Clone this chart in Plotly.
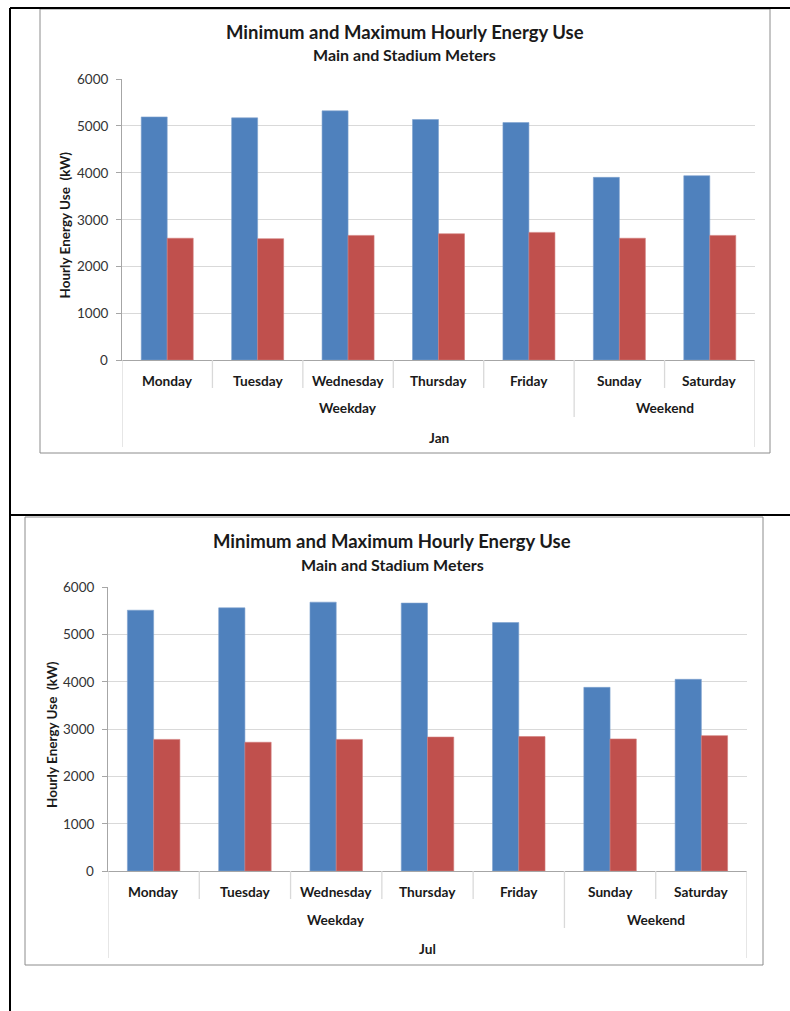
import plotly.graph_objects as go

# ---- data ----
days = ["Monday", "Tuesday", "Wednesday", "Thursday", "Friday", "Sunday", "Saturday"]
day_group = ["Weekday", "Weekday", "Weekday", "Weekday", "Weekday", "Weekend", "Weekend"]
months = ["Jan", "Jul"]
jan_max = [5190, 5170, 5320, 5135, 5070, 3900, 3935]
jan_min = [2600, 2590, 2660, 2695, 2725, 2600, 2660]
jul_max = [5510, 5560, 5680, 5660, 5250, 3880, 4050]
jul_min = [2780, 2720, 2780, 2830, 2840, 2790, 2860]
title_main = "Minimum and Maximum Hourly Energy Use"
title_sub = "Main and Stadium Meters"
y_title = "Hourly Energy Use&nbsp;&nbsp;(kW)"
y_ticks = [0, 1000, 2000, 3000, 4000, 5000, 6000]

W, H = 790, 1011
FONT = "Lato"
BLUE = "#4F81BD"
RED = "#C0504D"
GRID = "#D9D9D9"
AXC = "#A6A6A6"
TXT = "#1a1a1a"


def px(x):
    return x / W


def py(y):
    return 1 - y / H


fig = go.Figure()

charts = [
    dict(ax="", vmax=jan_max, vmin=jan_min, month=months[0],
         L=122, R=755, T=79, B=360, frame=(40, 9, 770, 453),
         tcx=405, t1=32, t2=55, ytx=64),
    dict(ax="2", vmax=jul_max, vmin=jul_min, month=months[1],
         L=108, R=747, T=587, B=871, frame=(25, 517, 763, 965),
         tcx=392, t1=541, t2=564, ytx=52),
]

shapes = []
annotations = []


def ann(**kw):
    base = dict(showarrow=False, xanchor="center", yanchor="middle")
    base.update(kw)
    annotations.append(base)


for c in charts:
    xa = "x" + c["ax"]
    ya = "y" + c["ax"]
    fig.add_trace(go.Bar(x=days, y=c["vmax"], xaxis=xa, yaxis=ya,
                         marker=dict(color=BLUE, line=dict(color="#7EA1CF", width=0.6)),
                         offsetgroup="max", showlegend=False, name="Max"))
    fig.add_trace(go.Bar(x=days, y=c["vmin"], xaxis=xa, yaxis=ya,
                         marker=dict(color=RED, line=dict(color="#D27C7A", width=0.6)),
                         offsetgroup="min", showlegend=False, name="Min"))

    L, R, T, B = c["L"], c["R"], c["T"], c["B"]
    xkey = "xaxis" + c["ax"]
    ykey = "yaxis" + c["ax"]
    fig.update_layout(**{
        xkey: dict(domain=[px(L), px(R)], anchor=ya, type="category",
                   categoryorder="array", categoryarray=days,
                   range=[-0.5, len(days) - 0.5], showticklabels=False,
                   showline=True, linecolor=AXC, linewidth=1, ticks="",
                   showgrid=False, zeroline=False, fixedrange=True),
        ykey: dict(domain=[py(B), py(T)], anchor=xa, range=[0, 6000],
                   tickvals=y_ticks, showgrid=True, gridcolor=GRID, gridwidth=1,
                   showline=True, linecolor=AXC, linewidth=1,
                   ticks="outside", ticklen=5, tickcolor=AXC,
                   showticklabels=False,
                   zeroline=False, fixedrange=True),
    })

    # y tick labels, right-aligned, positioned on the y scale
    for v in y_ticks:
        annotations.append(dict(x=px(L - 12), y=v, xref="paper", yref=ya,
                                text=str(v), showarrow=False,
                                xanchor="right", yanchor="middle",
                                font=dict(family=FONT, size=13.5, color="#333333")))

    fl, ft, fr, fb = c["frame"]
    shapes.append(dict(type="rect", xref="paper", yref="paper",
                       x0=px(fl), x1=px(fr), y0=py(fb), y1=py(ft),
                       line=dict(color="#8C8C8C", width=1), layer="below"))

    lvl1 = B + 28
    lvl2 = B + 57
    lvl3 = B + 87
    for i in range(1, len(days)):
        bottom = lvl2 if day_group[i] != day_group[i - 1] else lvl1
        shapes.append(dict(type="line", xref=xa, yref="paper",
                           x0=i - 0.5, x1=i - 0.5, y0=py(B), y1=py(bottom),
                           line=dict(color=GRID, width=1.3)))
    for xe in (-0.5, len(days) - 0.5):
        shapes.append(dict(type="line", xref=xa, yref="paper",
                           x0=xe, x1=xe, y0=py(B), y1=py(lvl3),
                           line=dict(color=GRID, width=1.3)))

    for i, d in enumerate(days):
        ann(x=i, y=py(B + 20), xref=xa, yref="paper", text="<b>%s</b>" % d,
            font=dict(family=FONT, size=13.7, color=TXT))
    groups = []
    for g in day_group:
        if g not in groups:
            groups.append(g)
    for g in groups:
        idx = [i for i, v in enumerate(day_group) if v == g]
        ann(x=(idx[0] + idx[-1]) / 2, y=py(B + 48), xref=xa, yref="paper",
            text="<b>%s</b>" % g, font=dict(family=FONT, size=13.7, color=TXT))
    ann(x=(len(days) - 1) / 2, y=py(B + 77), xref=xa, yref="paper",
        text="<b>%s</b>" % c["month"], font=dict(family=FONT, size=13.7, color=TXT))

    ann(x=px(c["tcx"]), y=py(c["t1"]), xref="paper", yref="paper",
        text="<b>%s</b>" % title_main, font=dict(family=FONT, size=18.5, color=TXT))
    ann(x=px(c["tcx"]), y=py(c["t2"]), xref="paper", yref="paper",
        text="<b>%s</b>" % title_sub, font=dict(family=FONT, size=16, color=TXT))
    ann(x=px(c["ytx"]), y=py((T + B) / 2 + 6), xref="paper", yref="paper",
        text="<b>%s</b>" % y_title, textangle=-90,
        font=dict(family=FONT, size=13.5, color=TXT))

black = dict(color="black", width=2)
shapes.append(dict(type="line", xref="paper", yref="paper",
                   x0=px(10), x1=px(10), y0=py(8), y1=0, line=black))
shapes.append(dict(type="line", xref="paper", yref="paper",
                   x0=px(10), x1=1, y0=py(8), y1=py(8), line=black))
shapes.append(dict(type="line", xref="paper", yref="paper",
                   x0=px(10), x1=1, y0=py(515), y1=py(515), line=black))

fig.update_layout(width=W, height=H, autosize=False,
                  margin=dict(l=0, r=0, t=0, b=0),
                  paper_bgcolor="white", plot_bgcolor="white",
                  barmode="group", bargap=0.425, bargroupgap=0,
                  shapes=shapes, annotations=annotations,
                  font=dict(family=FONT))

post = """
document.documentElement.style.margin='0';
document.body.style.margin='0';
document.body.style.overflow='hidden';
var d = document.getElementsByClassName('plotly-graph-div')[0];
d.style.position='fixed'; d.style.top='0px'; d.style.left='0px';
"""
fig.write_html("out.html", config={"displayModeBar": False}, post_script=post)
